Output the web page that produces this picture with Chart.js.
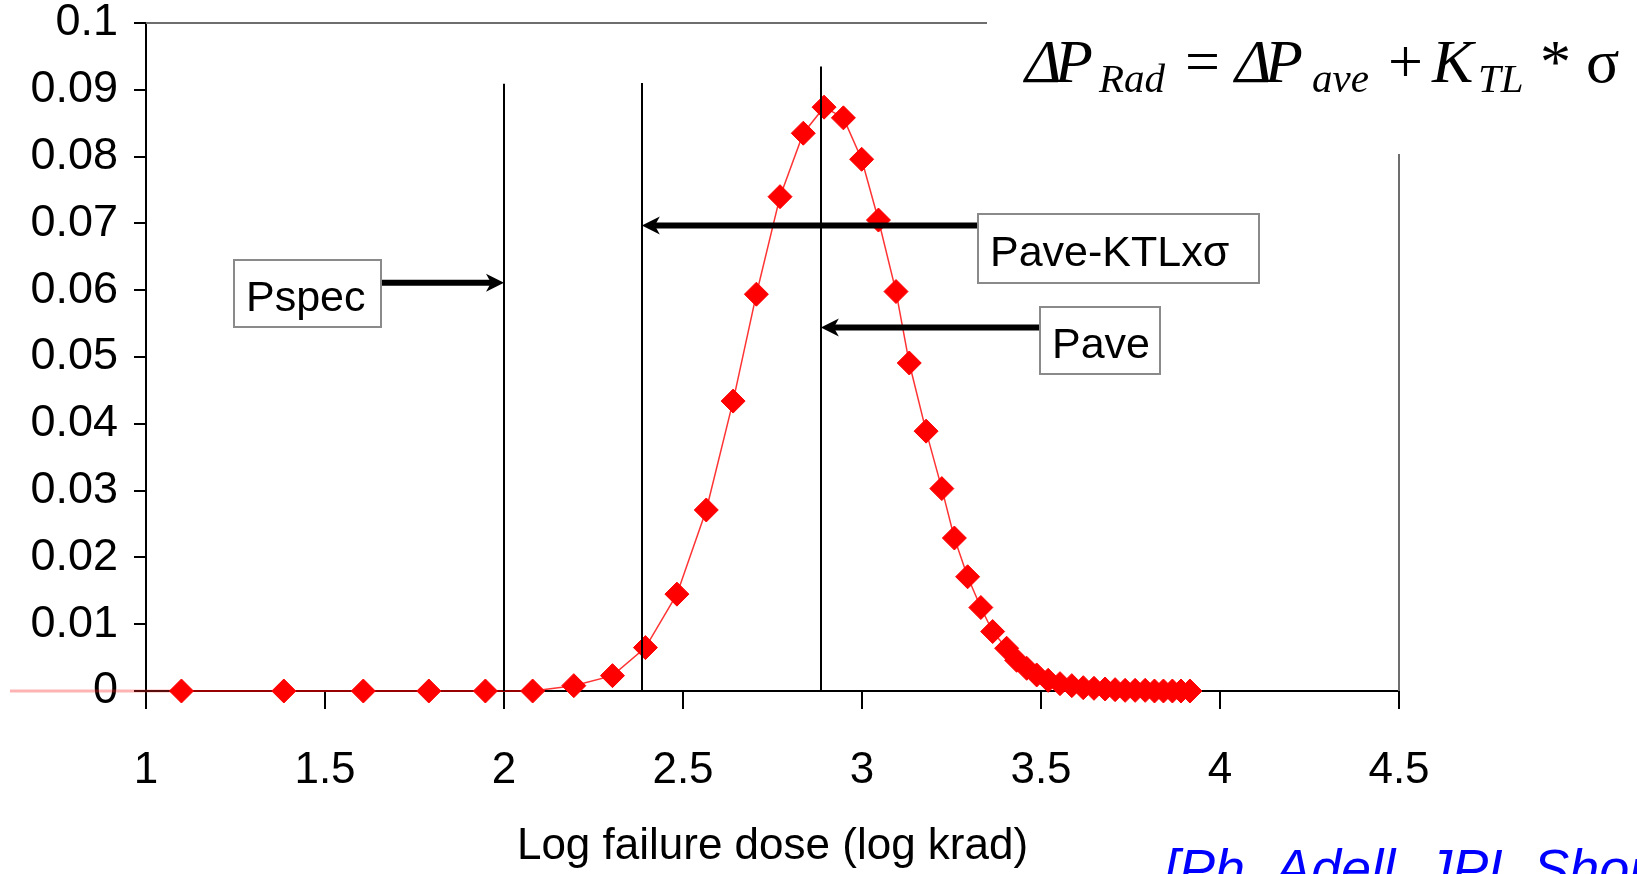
<!DOCTYPE html>
<html>
<head>
<meta charset="utf-8">
<script src="https://cdn.jsdelivr.net/npm/chart.js@4/dist/chart.umd.min.js"></script>
<style>
  html, body { margin: 0; padding: 0; background: #fff; }
  canvas { display: block; }
</style>
</head>
<body>
<canvas id="doseChart" width="1637" height="874"></canvas>
<script>
// log failure dose (log krad) and failure probability for each dose step
var doseLog = [0.62, 1.099, 1.385, 1.607, 1.79, 1.948, 2.08, 2.195, 2.303, 2.395, 2.483, 2.565,
    2.64, 2.705, 2.771, 2.836, 2.894, 2.948, 2.999, 3.046, 3.095, 3.132, 3.179, 3.223, 3.258,
    3.295, 3.332, 3.365, 3.404, 3.432, 3.46, 3.488, 3.52, 3.553, 3.586, 3.618, 3.648, 3.679,
    3.707, 3.735, 3.763, 3.791, 3.817, 3.842, 3.867, 3.891, 3.916];
var probability = [0, 0, 0, 0, 0, 0, 0, 0.0008, 0.0023, 0.0065, 0.0145, 0.0271,
    0.0434, 0.0594, 0.074, 0.0835, 0.0874, 0.0858, 0.0796, 0.0705, 0.0598, 0.0491, 0.0389, 0.0303, 0.0229,
    0.0171, 0.0125, 0.0089, 0.0064, 0.0046, 0.0034, 0.0024, 0.0016, 0.0011, 0.0008, 0.0005, 0.0004, 0.0003,
    0.0002, 0.0001, 0.0001, 0.0001, 0, 0, 0, 0, 0];

var xTicks = [1, 1.5, 2, 2.5, 3, 3.5, 4, 4.5];
var yTicks = [0, 0.01, 0.02, 0.03, 0.04, 0.05, 0.06, 0.07, 0.08, 0.09, 0.1];

// reference dose levels: name, log dose, top of the marker line
var levelNames = ['Pspec', 'Pave-KTLxσ', 'Pave'];
var levelDose = [2.0, 2.385, 2.885];
var levelTop = [0.0909, 0.091, 0.0935];
// height of each pointing arrow, and label box extents (in axis units)
var arrowY = [0.0611, 0.0697, 0.0544];
var boxX = [[1.246, 1.656], [3.324, 4.109], [3.497, 3.832]];
var boxY = [[0.0645, 0.0545], [0.0714, 0.0611], [0.0575, 0.0475]];

function fmt(v) {
    return String(+Number(v).toFixed(2));
}

var sansFont = "'Liberation Sans', Arial, sans-serif";
var serifFont = "'Liberation Serif', 'Times New Roman', serif";

function arrowHead(ctx, tipX, y, dir) {
    // dir = 1 points right, -1 points left
    ctx.beginPath();
    ctx.moveTo(tipX, y);
    ctx.lineTo(tipX - dir * 18, y - 9);
    ctx.lineTo(tipX - dir * 13, y);
    ctx.lineTo(tipX - dir * 18, y + 9);
    ctx.closePath();
    ctx.fill();
}

var annotations = {
    id: 'annotations',
    beforeDatasetsDraw: function(chart) {
        var ctx = chart.ctx;
        var a = chart.chartArea;
        // partial plot frame (top and right edges)
        ctx.save();
        ctx.strokeStyle = '#6e6e6e';
        ctx.lineWidth = 2;
        ctx.beginPath();
        ctx.moveTo(a.left, a.top);
        ctx.lineTo(987, a.top);
        ctx.moveTo(a.right, 154);
        ctx.lineTo(a.right, a.bottom);
        ctx.stroke();
        ctx.restore();
    },
    afterDatasetsDraw: function(chart) {
        var ctx = chart.ctx;
        var xs = chart.scales.x, ys = chart.scales.y;
        ctx.save();
        // vertical dose level lines
        ctx.strokeStyle = '#000';
        ctx.lineWidth = 2;
        for (var i = 0; i < levelDose.length; i++) {
            var lx = Math.round(xs.getPixelForValue(levelDose[i]));
            ctx.beginPath();
            ctx.moveTo(lx, ys.getPixelForValue(levelTop[i]));
            ctx.lineTo(lx, ys.getPixelForValue(0));
            ctx.stroke();
        }
        // arrows from label boxes to the lines
        ctx.fillStyle = '#000';
        ctx.lineWidth = 6;
        for (var j = 0; j < levelDose.length; j++) {
            var tip = xs.getPixelForValue(levelDose[j]);
            var ay = ys.getPixelForValue(arrowY[j]);
            var boxLeft = xs.getPixelForValue(boxX[j][0]);
            var boxRight = xs.getPixelForValue(boxX[j][1]);
            var dir = boxRight < tip ? 1 : -1;
            var start = dir === 1 ? boxRight : boxLeft + 5;
            ctx.beginPath();
            ctx.moveTo(start, ay);
            ctx.lineTo(tip - dir * 13, ay);
            ctx.stroke();
            arrowHead(ctx, tip, ay, dir);
        }
        // label boxes
        ctx.font = '43px ' + sansFont;
        ctx.textBaseline = 'alphabetic';
        ctx.textAlign = 'left';
        for (var k = 0; k < levelNames.length; k++) {
            var bx0 = Math.round(xs.getPixelForValue(boxX[k][0]));
            var bx1 = Math.round(xs.getPixelForValue(boxX[k][1]));
            var by0 = Math.round(ys.getPixelForValue(boxY[k][0]));
            var by1 = Math.round(ys.getPixelForValue(boxY[k][1]));
            ctx.fillStyle = '#fff';
            ctx.fillRect(bx0, by0, bx1 - bx0, by1 - by0);
            ctx.strokeStyle = '#8a8a8a';
            ctx.lineWidth = 2;
            ctx.strokeRect(bx0, by0, bx1 - bx0, by1 - by0);
            ctx.fillStyle = '#000';
            ctx.fillText(levelNames[k], bx0 + 12, (by0 + by1) / 2 + 17);
        }
        ctx.restore();
    },
    afterDraw: function(chart) {
        var ctx = chart.ctx;
        ctx.save();
        ctx.fillStyle = '#000';
        ctx.textBaseline = 'alphabetic';
        ctx.textAlign = 'left';
        // ΔP_Rad = ΔP_ave + K_TL * σ
        var big = 82, sub = 92;
        var parts = [
            ['Δ', 'italic 62px ', 1025, big],
            ['P', 'italic 62px ', 1055, big],
            ['Rad', 'italic 41px ', 1099, sub],
            ['=', '62px ', 1185, big],
            ['Δ', 'italic 62px ', 1235, big],
            ['P', 'italic 62px ', 1265, big],
            ['ave', 'italic 41px ', 1312, sub],
            ['+', '62px ', 1388, big],
            ['K', 'italic 62px ', 1432, big],
            ['TL', 'italic 41px ', 1478, sub],
            ['*', '62px ', 1540, big],
            ['σ', '62px ', 1586, big]
        ];
        parts.forEach(function(p) {
            ctx.font = p[1] + serifFont;
            ctx.fillText(p[0], p[2], p[3]);
        });
        // source reference
        ctx.fillStyle = '#0000ff';
        ctx.font = 'italic 54px ' + sansFont;
        ctx.fillText('[Ph. Adell, JPL Short Course', 1164, 887);
        ctx.restore();
    }
};

var pointSizes = doseLog.map(function(v, i) { return i === 0 ? 0 : 12; });

var ctx = document.getElementById('doseChart').getContext('2d');
var doseChart = new Chart(ctx, {
    type: 'line',
    data: {
        datasets: [{
            data: doseLog.map(function(x, i) { return { x: x, y: probability[i] }; }),
            borderColor: 'rgba(255, 0, 0, 0.8)',
            borderWidth: 1.5,
            pointStyle: 'rectRot',
            pointRadius: pointSizes,
            pointBackgroundColor: '#ff0000',
            pointBorderColor: '#ff0000',
            pointBorderWidth: 1,
            tension: 0,
            clip: false,
            segment: {
                borderColor: function(c) { return c.p0.parsed.x < 1 ? 'rgba(255, 40, 40, 0.35)' : undefined; },
                borderWidth: function(c) { return c.p0.parsed.x < 1 ? 3 : undefined; }
            }
        }]
    },
    options: {
        responsive: false,
        animation: false,
        events: [],
        layout: {
            padding: { left: 0, right: 238, top: 23, bottom: 0 }
        },
        plugins: {
            legend: { display: false },
            tooltip: { enabled: false }
        },
        scales: {
            x: {
                type: 'linear',
                min: 1,
                max: 4.5,
                afterBuildTicks: function(scale) {
                    scale.ticks = xTicks.map(function(v) { return { value: v }; });
                },
                afterFit: function(scale) {
                    scale.height = 183;
                    scale.paddingLeft = 0;
                    scale.paddingRight = 0;
                },
                border: { color: '#000', width: 2 },
                grid: {
                    drawOnChartArea: false,
                    drawTicks: true,
                    tickLength: 18,
                    color: '#000',
                    lineWidth: 2
                },
                ticks: {
                    padding: 35,
                    color: '#000',
                    maxRotation: 0,
                    autoSkip: false,
                    font: { family: sansFont, size: 44 },
                    callback: function(v) { return fmt(v); }
                },
                title: {
                    display: true,
                    text: 'Log failure dose (log krad)',
                    color: '#000',
                    font: { family: sansFont, size: 44 },
                    padding: { top: 0, bottom: 1 }
                }
            },
            y: {
                type: 'linear',
                min: 0,
                max: 0.1,
                afterBuildTicks: function(scale) {
                    scale.ticks = yTicks.map(function(v) { return { value: v }; });
                },
                afterFit: function(scale) {
                    scale.width = 146;
                    scale.paddingTop = 0;
                    scale.paddingBottom = 0;
                },
                border: { color: '#000', width: 2 },
                grid: {
                    drawOnChartArea: false,
                    drawTicks: true,
                    tickLength: 12,
                    color: '#000',
                    lineWidth: 2
                },
                ticks: {
                    padding: 16,
                    color: '#000',
                    font: { family: sansFont, size: 45 },
                    callback: function(v) { return fmt(v); }
                }
            }
        }
    },
    plugins: [annotations]
});
</script>
</body>
</html>
